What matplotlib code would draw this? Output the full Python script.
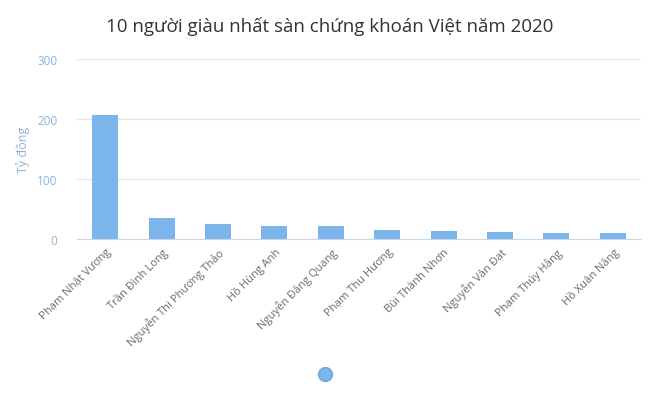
import matplotlib
matplotlib.use("Agg")
import matplotlib.pyplot as plt
from matplotlib.lines import Line2D

names = ["Phạm Nhật Vượng", "Trần Đình Long", "Nguyễn Thị Phương Thảo", "Hồ Hùng Anh",
         "Nguyễn Đăng Quang", "Phạm Thu Hương", "Bùi Thành Nhơn", "Nguyễn Văn Đạt",
         "Phạm Thúy Hằng", "Hồ Xuân Năng"]
values = [206, 35, 25.5, 21.7, 21.7, 15.3, 13.3, 11.7, 10, 10]
yticks = [0, 100, 200, 300]

plt.rcParams['font.family'] = ['Open Sans', 'DejaVu Sans']

W, H = 660, 406
fig = plt.figure(figsize=(W/100, H/100), dpi=100)
ax = fig.add_axes([77/W, (H-240)/H, (641-77)/W, 180/H])

x = list(range(len(names)))
ax.bar(x, values, width=0.46, color="#7cb5ec", zorder=3)
ax.set_xlim(-0.5, len(names)-0.5)
ax.set_ylim(0, 300)
ax.set_yticks(yticks)
ax.set_yticklabels([str(t) for t in yticks], color="#8fb2d6", fontsize=8.5)
ax.tick_params(axis='y', length=0, pad=14)
ax.tick_params(axis='x', length=0, pad=5)
ax.set_xticks(x)
ax.set_xticklabels(names, rotation=45, ha='right', rotation_mode='anchor',
                   color="#6b6b6b", fontsize=8)
ax.grid(axis='y', color="#e6e6e6", linewidth=1, zorder=0)
for s in ['top', 'right', 'left']:
    ax.spines[s].set_visible(False)
ax.spines['bottom'].set_color("#ccd6eb")
ax.spines['bottom'].set_zorder(4)
ax.set_ylabel("Tỷ đồng", color="#8fb2d6", fontsize=9, labelpad=5.5)

fig.text(330/W, 1-27/H, "10 người giàu nhất sàn chứng khoán Việt năm 2020",
         ha='center', va='center', fontsize=13.5, color="#333333")

fig.lines.append(Line2D([325/W], [1-375/H], marker='o', markersize=10,
                 color="#7cb5ec", markeredgecolor="#6aa8e8", transform=fig.transFigure))

fig.savefig("out.png", dpi=100)
